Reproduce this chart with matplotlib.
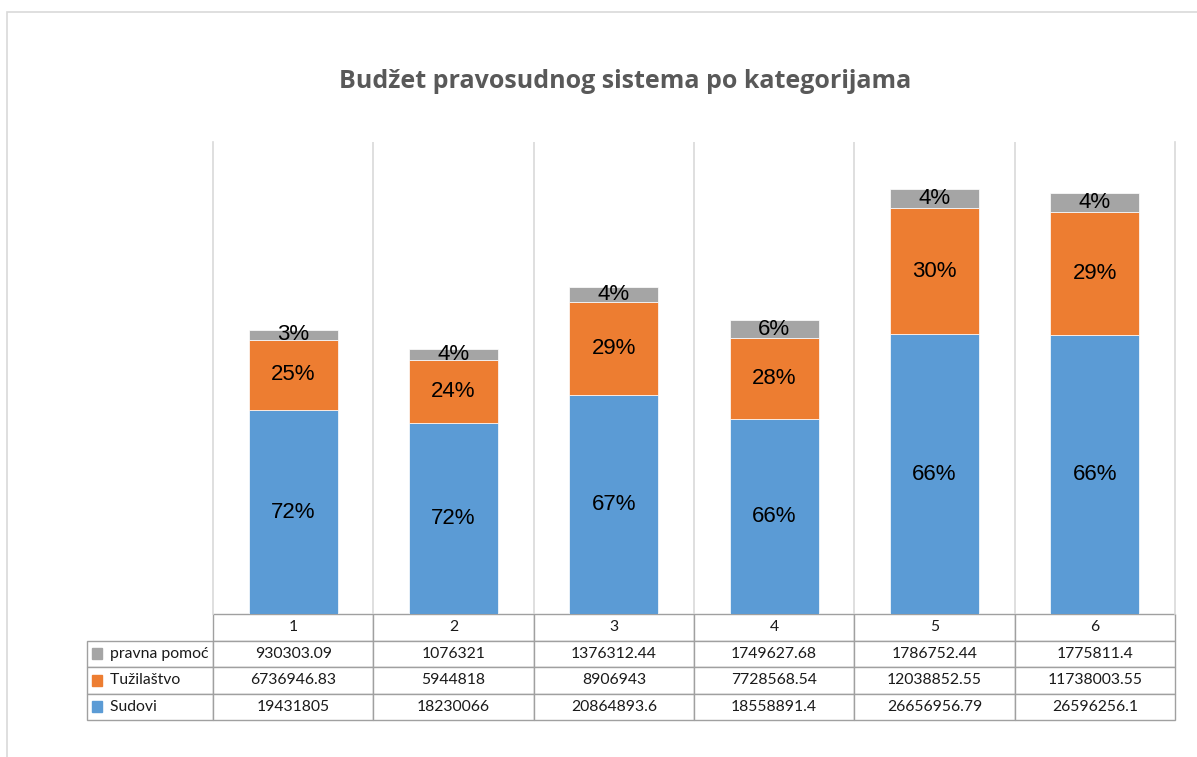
import numpy as np
import matplotlib
matplotlib.use("Agg")
import matplotlib.pyplot as plt
from matplotlib.patches import Rectangle
from matplotlib.table import Table

categories = ["1", "2", "3", "4", "5", "6"]
series_names = ["pravna pomoć", "Tužilaštvo", "Sudovi"]
pravna_pomoc = [930303.09, 1076321, 1376312.44, 1749627.68, 1786752.44, 1775811.4]
tuzilastvo = [6736946.83, 5944818, 8906943, 7728568.54, 12038852.55, 11738003.55]
sudovi = [19431805, 18230066, 20864893.6, 18558891.4, 26656956.79, 26596256.1]
table_text = [
    ["930303.09", "1076321", "1376312.44", "1749627.68", "1786752.44", "1775811.4"],
    ["6736946.83", "5944818", "8906943", "7728568.54", "12038852.55", "11738003.55"],
    ["19431805", "18230066", "20864893.6", "18558891.4", "26656956.79", "26596256.1"],
]

c_blue = "#5B9BD5"
c_orange = "#ED7D31"
c_gray = "#A5A5A5"
grid_c = "#D9D9D9"
line_c = "#A0A0A0"

W, H = 1197, 757
fig = plt.figure(figsize=(W / 100, H / 100), dpi=100)

# outer chart border (runs off the right and bottom edge)
fig.patches.append(Rectangle((7 / W, -0.05), 1.2, 1 - 12 / H + 0.05, transform=fig.transFigure,
                             fill=False, edgecolor=grid_c, linewidth=1.2))

ax = fig.add_axes([213 / W, 1 - 614 / H, (1175 - 213) / W, (614 - 142) / H])

x = np.arange(len(categories))
sud = np.array(sudovi)
tuz = np.array(tuzilastvo)
prav = np.array(pravna_pomoc)
total = sud + tuz + prav

bw = 0.555
b1 = ax.bar(x, sud, bw, color=c_blue, edgecolor="white", linewidth=0.5)
b2 = ax.bar(x, tuz, bw, bottom=sud, color=c_orange, edgecolor="white", linewidth=0.5)
b3 = ax.bar(x, prav, bw, bottom=sud + tuz, color=c_gray, edgecolor="white", linewidth=0.5)

lab_font = dict(fontsize=16, family="Liberation Sans", color="black")
for bars, vals in [(b1, sud), (b2, tuz), (b3, prav)]:
    pct = [f"{v / t * 100:.0f}%" for v, t in zip(vals, total)]
    ax.bar_label(bars, labels=pct, label_type="center", **lab_font)

ax.set_xlim(-0.5, 5.5)
ax.set_ylim(0, 45e6)
ax.set_xticks([])
ax.set_yticks([])
ax.set_xticks(np.arange(0.5, 5.5, 1), minor=True)
ax.tick_params(which="both", length=0)
ax.grid(True, which="minor", axis="x", color=grid_c, linewidth=1.2)
ax.set_axisbelow(True)
for s in ["top", "bottom"]:
    ax.spines[s].set_visible(False)
for s in ["left", "right"]:
    ax.spines[s].set_color(grid_c)
    ax.spines[s].set_linewidth(1.2)

# data table under the chart (bbox covers the value columns, labels hang left)
lab_w = 126 / (1175 - 213)
col_w = 1 / 6
row_h = 106 / 4 / (614 - 142)
tbl = Table(ax, bbox=[0, -4 * row_h, 1, 4 * row_h])
tbl.auto_set_font_size(False)
for c, name in enumerate(categories):
    tbl.add_cell(0, c, col_w, row_h, text=name, loc="center")
for r, (name, row) in enumerate(zip(series_names, table_text), start=1):
    tbl.add_cell(r, -1, lab_w, row_h, text="     " + name, loc="left")
    for c, val in enumerate(row):
        tbl.add_cell(r, c, col_w, row_h, text=val, loc="center")
for (r, c), cell in tbl.get_celld().items():
    cell.set_edgecolor(line_c)
    cell.set_linewidth(1.0)
    cell.PAD = 0.02
    t = cell.get_text()
    t.set_fontsize(11.3)
    t.set_family("Lato")
    t.set_color("#1a1a1a")
ax.add_table(tbl)

# legend keys inside the row label cells
for r, col in enumerate([c_gray, c_orange, c_blue], start=1):
    yc = -(r + 0.5) * row_h
    ax.add_patch(Rectangle((-lab_w + 5 / 962, yc - 5.5 / 472), 10 / 962, 11 / 472,
                           transform=ax.transAxes, color=col, clip_on=False))

fig.text(625 / W, 1 - 82 / H, "Budžet pravosudnog sistema po kategorijama",
         ha="center", va="center", fontsize=18, fontweight="bold",
         family="Open Sans", color="#595959")

fig.savefig("out.png", dpi=100, facecolor="white")
